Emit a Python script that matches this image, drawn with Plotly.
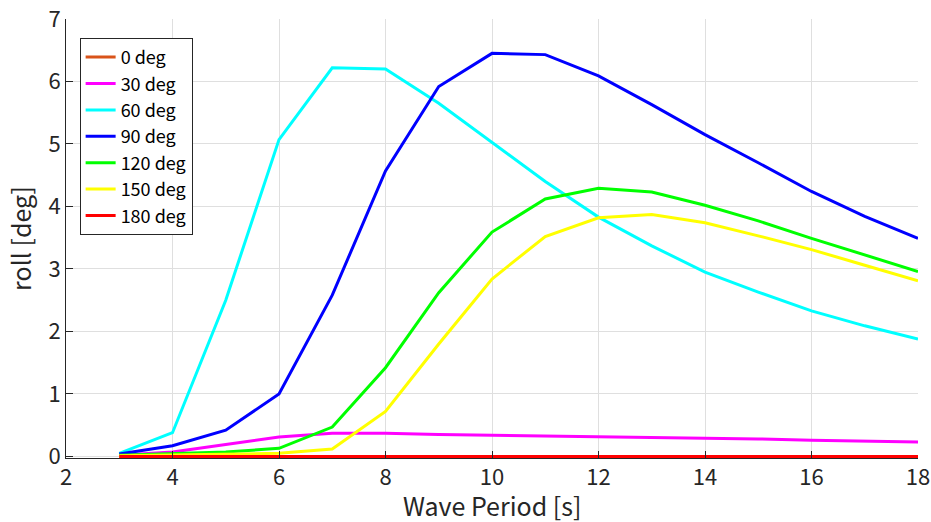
import plotly.graph_objects as go

periods = list(range(3, 19))
headings = ["0 deg", "30 deg", "60 deg", "90 deg", "120 deg", "150 deg", "180 deg"]
roll_0 = [0.0] * 16
roll_30 = [0.02, 0.07, 0.19, 0.31, 0.37, 0.37, 0.35, 0.34, 0.32, 0.31, 0.30, 0.29, 0.28, 0.26, 0.25, 0.23]
roll_60 = [0.05, 0.38, 2.50, 5.07, 6.22, 6.20, 5.65, 5.02, 4.40, 3.83, 3.37, 2.95, 2.63, 2.33, 2.09, 1.88]
roll_90 = [0.04, 0.17, 0.42, 1.00, 2.58, 4.57, 5.92, 6.45, 6.43, 6.09, 5.63, 5.15, 4.70, 4.24, 3.84, 3.49]
roll_120 = [0.02, 0.04, 0.07, 0.13, 0.47, 1.42, 2.62, 3.59, 4.12, 4.29, 4.23, 4.02, 3.77, 3.49, 3.22, 2.96]
roll_150 = [0.01, 0.02, 0.03, 0.05, 0.12, 0.72, 1.80, 2.84, 3.52, 3.82, 3.87, 3.74, 3.53, 3.31, 3.06, 2.81]
roll_180 = [0.0] * 16
colors = ["#D95319", "#FF00FF", "#00FFFF", "#0000FF", "#00FF00", "#FFFF00", "#FF0000"]
x_title = "Wave Period [s]"
y_title = "roll [deg]"

series = [roll_0, roll_30, roll_60, roll_90, roll_120, roll_150, roll_180]

font_family = "Noto Sans CJK JP, Noto Sans, sans-serif"

fig = go.Figure()
for name, vals, col in zip(headings, series, colors):
    fig.add_trace(go.Scatter(x=periods, y=vals, mode="lines", name=name,
                             line=dict(color=col, width=3)))

axis_common = dict(
    showgrid=True, gridcolor="#DFDFDF", gridwidth=1,
    showline=True, linecolor="#262626", linewidth=1, mirror=False,
    ticks="inside", ticklen=7, tickcolor="#262626",
    tickfont=dict(size=22, color="#262626", family=font_family),
    zeroline=False, automargin=False,
)

fig.update_xaxes(range=[2, 18], dtick=2, tick0=2, **axis_common)
fig.update_yaxes(range=[-0.025, 7], tickvals=[0, 1, 2, 3, 4, 5, 6, 7],
                 title=dict(text=y_title, font=dict(size=25, color="#262626", family=font_family), standoff=9),
                 **axis_common)

fig.add_annotation(text=x_title, xref="paper", yref="paper", x=0.5, y=-0.108,
                   xanchor="center", yanchor="middle", showarrow=False,
                   font=dict(size=25, color="#262626", family=font_family))

fig.update_layout(
    width=931, height=522,
    margin=dict(l=66, r=13, t=19, b=64),
    plot_bgcolor="white", paper_bgcolor="white",
    font=dict(family=font_family, color="#262626"),
    legend=dict(x=0.016, y=0.957, xanchor="left", yanchor="top",
                bgcolor="white", bordercolor="#262626", borderwidth=1,
                font=dict(size=18, color="#000000", family=font_family),
                tracegroupgap=0, itemwidth=30),
)

fig.write_html("out.html", config={"displayModeBar": False},
               post_script="document.body.style.margin='0';document.body.style.overflow='hidden';")
